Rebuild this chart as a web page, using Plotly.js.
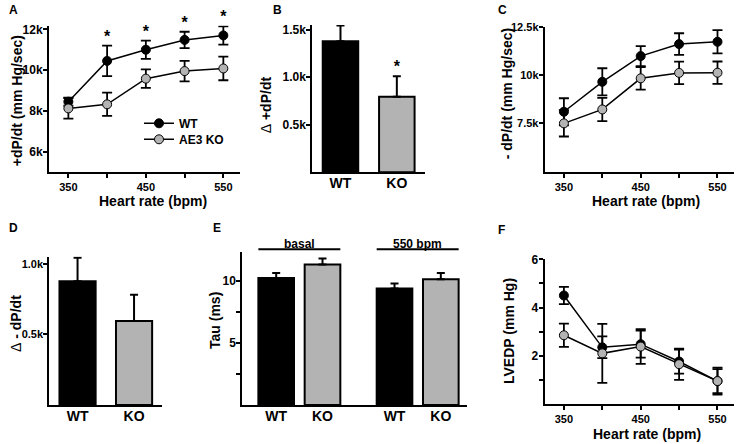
<!DOCTYPE html>
<html>
<head>
<meta charset="utf-8">
<script src="https://cdn.plot.ly/plotly-3.0.1.min.js"></script>
<style>
  html, body { margin: 0; padding: 0; background: #fff; }
  #chart { width: 744px; height: 444px; }
</style>
</head>
<body>
<div id="chart"></div>
<script>
// pacing steps (bpm)
var heartRate = [350, 400, 450, 500, 550];
var heartRateLabels = ['350', '', '450', '', '550'];

// A: +dP/dt (mm Hg/sec), mean and SEM
var wtPlus = [8450, 10450, 11000, 11480, 11700];
var wtPlusErr = [200, 750, 450, 400, 450];
var koPlus = [8120, 8320, 9580, 9950, 10080];
var koPlusErr = [500, 570, 450, 500, 580];
var plusSig = [false, true, true, true, true];

// B: delta +dP/dt
var groups = ['WT', 'KO'];
var deltaPlus = [1380, 795];
var deltaPlusErr = [165, 215];
var deltaPlusSig = [false, true];

// C: -dP/dt (mm Hg/sec)
var wtMinus = [8100, 9650, 10980, 11600, 11720];
var wtMinusErr = [700, 700, 520, 560, 600];
var koMinus = [7500, 8220, 9830, 10110, 10120];
var koMinusErr = [680, 600, 580, 580, 580];

// D: delta -dP/dt
var deltaMinus = [876, 595];
var deltaMinusErr = [165, 185];

// E: Tau (ms), basal and 550 bpm
var tauConditions = ['basal', '550 bpm'];
var tauLabels = ['WT', 'KO', 'WT', 'KO'];
var tauSlots = [0, 1, 2.555, 3.555];
var tau = [10.24, 11.32, 9.39, 10.14];
var tauErr = [0.4, 0.5, 0.4, 0.5];

// F: LVEDP (mm Hg)
var wtLvedp = [4.5, 2.35, 2.48, 1.76, 0.95];
var wtLvedpErr = [0.36, 0.45, 0.56, 0.5, 0.56];
var koLvedp = [2.85, 2.1, 2.38, 1.65, 0.95];
var koLvedpErr = [0.48, 1.22, 0.72, 0.65, 0.5];

var W = 744, H = 444;
var BLACK = '#000000', GREY = '#b3b3b3';
var FONT = 'Liberation Sans, Arial, Helvetica, sans-serif';

function px(v) { return v / W; }
function py(v) { return 1 - v / H; }

var layout = {
  width: W, height: H,
  margin: {l: 0, r: 0, t: 0, b: 0},
  paper_bgcolor: 'white', plot_bgcolor: 'rgba(0,0,0,0)',
  font: {family: FONT, size: 12, color: BLACK, weight: 'bold'},
  showlegend: true,
  legend: {x: px(139), y: py(123.3), xanchor: 'left', yanchor: 'middle',
           bgcolor: 'rgba(0,0,0,0)', font: {size: 12}},
  legend2: {x: px(139), y: py(139.3), xanchor: 'left', yanchor: 'middle',
            bgcolor: 'rgba(0,0,0,0)', font: {size: 12}},
  annotations: [],
  shapes: []
};

var baseAxis = {
  showgrid: false, zeroline: false, showline: true,
  linecolor: BLACK, linewidth: 2, tickcolor: BLACK, tickwidth: 2, ticklen: 4,
  fixedrange: true, autorange: false
};

// box = [left, right, top, bottom] in pixels
function addAxes(n, box, xCfg, yCfg) {
  var s = n === 1 ? '' : String(n);
  var xdom = [px(box[0]), px(box[1])];
  var ydom = [py(box[3]), py(box[2])];
  layout['xaxis' + s] = Object.assign({}, baseAxis, {domain: xdom, anchor: 'y' + s, ticks: 'outside'}, xCfg);
  layout['yaxis' + s] = Object.assign({}, baseAxis, {domain: ydom, anchor: 'x' + s, ticks: 'outside',
                                                    ticklabelstandoff: -2}, yCfg);
  // twin axes with inward ticks, so the ticks cross the axis line like the original
  var m = String(n + 6);
  if (xCfg.ticks !== '') {
    layout['xaxis' + m] = Object.assign({}, baseAxis, {
      overlaying: 'x' + s, anchor: 'y' + s, ticks: 'inside', showline: false,
      showticklabels: false, range: xCfg.range, tickvals: xCfg.tickvals, tickmode: 'array'
    });
  }
  layout['yaxis' + m] = Object.assign({}, baseAxis, {
    overlaying: 'y' + s, anchor: 'x' + s, ticks: 'inside', showline: false,
    showticklabels: false, range: yCfg.range, tickvals: yCfg.tickvals, tickmode: 'array'
  });
}

var hrAxis = {range: [325, 571.5], tickmode: 'array', tickvals: heartRate, ticktext: heartRateLabels,
              tickfont: {size: 11}};
var barX = {ticks: '', tickfont: {size: 14}, type: 'category', range: [-0.5, 1.5], ticklabelstandoff: -3};

addAxes(1, [49, 240, 25.85, 172], hrAxis,
  {range: [5000, 12170], tickmode: 'array', tickvals: [6000, 8000, 10000, 12000],
   ticktext: ['6k', '8k', '10k', '12k'], tickfont: {size: 12}});
addAxes(2, [312.3, 425, 25, 172.3], barX,
  {range: [0, 1550], tickmode: 'array', tickvals: [500, 1000, 1500],
   ticktext: ['0.5k', '1.0k', '1.5k'], tickfont: {size: 12}});
addAxes(3, [544.7, 734, 26.7, 171.7], hrAxis,
  {range: [5000, 12500], tickmode: 'array', tickvals: [7500, 10000, 12500],
   ticktext: ['7.5k', '10k', '12.5k'], tickfont: {size: 11}});
addAxes(4, [49.3, 162.3, 256.6, 405], barX,
  {range: [0, 1050], tickmode: 'array', tickvals: [500, 1000],
   ticktext: ['0.5k', '1.0k'], tickfont: {size: 11}});
addAxes(5, [242.3, 466.7, 251.7, 405],
  {ticks: '', tickfont: {size: 14}, range: [-0.732, 4.114], tickmode: 'array',
   tickvals: tauSlots, ticktext: tauLabels, ticklabelstandoff: -3},
  {range: [0, 12.36], tickmode: 'array', tickvals: [2.5, 5, 7.5, 10],
   ticktext: ['', '5', '', '10'], tickfont: {size: 12}});
addAxes(6, [544.7, 734, 259.3, 404], hrAxis,
  {range: [0, 6], tickmode: 'array', tickvals: [1, 2, 3, 4, 5, 6],
   ticktext: ['', '2', '', '4', '', '6'], tickfont: {size: 12}});

function lineTrace(name, y, err, fill, axisN, legendId) {
  var s = axisN === 1 ? '' : String(axisN);
  return {
    type: 'scatter', mode: 'lines+markers', name: name,
    x: heartRate, y: y, xaxis: 'x' + s, yaxis: 'y' + s,
    legend: legendId || 'legend', showlegend: !!legendId, cliponaxis: false,
    line: {color: BLACK, width: 1.5},
    marker: {size: 9, color: fill, line: {color: BLACK, width: 1}},
    error_y: {type: 'data', array: err, color: BLACK, thickness: 1.8, width: 5}
  };
}

function barTrace(x, y, err, fills, axisN, width) {
  return {
    type: 'bar', x: x, y: y, xaxis: 'x' + axisN, yaxis: 'y' + axisN,
    showlegend: false, width: width, cliponaxis: false,
    marker: {color: fills, line: {color: BLACK, width: 2}},
    error_y: {type: 'data', symmetric: false, array: err,
              arrayminus: err.map(function() { return 0; }),
              color: BLACK, thickness: 2, width: 4}
  };
}

// asterisks sit on top of the upper error bar of the flagged points
function starTrace(x, y, err, sig, axisN) {
  var s = axisN === 1 ? '' : String(axisN);
  var xs = [], ys = [];
  sig.forEach(function(on, i) {
    if (on) { xs.push(x[i]); ys.push(y[i] + err[i]); }
  });
  return {
    type: 'scatter', mode: 'text', x: xs, y: ys, text: xs.map(function() { return '*'; }),
    textposition: 'top center', textfont: {size: 16, color: BLACK},
    xaxis: 'x' + s, yaxis: 'y' + s, showlegend: false, cliponaxis: false, hoverinfo: 'skip'
  };
}

var data = [
  lineTrace('WT', wtPlus, wtPlusErr, BLACK, 1, 'legend'),
  lineTrace('AE3 KO', koPlus, koPlusErr, GREY, 1, 'legend2'),
  starTrace(heartRate, wtPlus, wtPlusErr, plusSig, 1),
  barTrace(groups, deltaPlus, deltaPlusErr, [BLACK, GREY], 2, 0.63),
  starTrace(groups, deltaPlus, deltaPlusErr, deltaPlusSig, 2),
  lineTrace('WT', wtMinus, wtMinusErr, BLACK, 3),
  lineTrace('AE3 KO', koMinus, koMinusErr, GREY, 3),
  barTrace(groups, deltaMinus, deltaMinusErr, [BLACK, GREY], 4, 0.64),
  barTrace(tauSlots, tau, tauErr, [BLACK, GREY, BLACK, GREY], 5, 0.77),
  lineTrace('WT', wtLvedp, wtLvedpErr, BLACK, 6),
  lineTrace('AE3 KO', koLvedp, koLvedpErr, GREY, 6)
];

function paperText(text, x, y, opts) {
  layout.annotations.push(Object.assign({
    text: text, xref: 'paper', yref: 'paper', x: px(x), y: py(y),
    xanchor: 'center', yanchor: 'middle', showarrow: false,
    font: {size: 14}
  }, opts || {}));
}

// panel letters
[['A', 8, 9], ['B', 271.7, 9], ['C', 496.7, 9],
 ['D', 8.3, 227.2], ['E', 211.7, 227.2], ['F', 497, 228.7]].forEach(function(p) {
  paperText(p[0], p[1] - 1, p[2] + 1, {xanchor: 'left', font: {size: 12}});
});

// axis titles
var dl = '<span style="font-weight:normal">\u0394</span>';
paperText('+dP/dt (mm Hg/sec)', 16.5, 100.7, {textangle: -90});
paperText(dl + ' +dP/dt', 266.3, 105, {textangle: -90});
paperText('- dP/dt (mm Hg/sec)', 507.3, 94, {textangle: -90});
paperText(dl + ' - dP/dt', 16, 324, {textangle: -90});
paperText('Tau (ms)', 215, 321, {textangle: -90});
paperText('LVEDP (mm Hg)', 509, 331, {textangle: -90});
paperText('Heart rate (bpm)', 153, 200.5);
paperText('Heart rate (bpm)', 645.7, 200.5);
paperText('Heart rate (bpm)', 647, 434);

// condition brackets above panel E
var halfBar = 0.77 / 2;
tauConditions.forEach(function(cond, g) {
  var a = tauSlots[g * 2] - halfBar, b = tauSlots[g * 2 + 1] + halfBar;
  layout.shapes.push({type: 'line', xref: 'x5', yref: 'paper', x0: a, x1: b,
                      y0: py(249.3), y1: py(249.3), line: {color: BLACK, width: 2}});
  layout.annotations.push({text: cond, xref: 'x5', yref: 'paper', x: (a + b) / 2, y: py(243.5),
                           xanchor: 'center', yanchor: 'middle', showarrow: false, font: {size: 12}});
});

Plotly.newPlot('chart', data, layout, {staticPlot: true, displayModeBar: false});
</script>
</body>
</html>
